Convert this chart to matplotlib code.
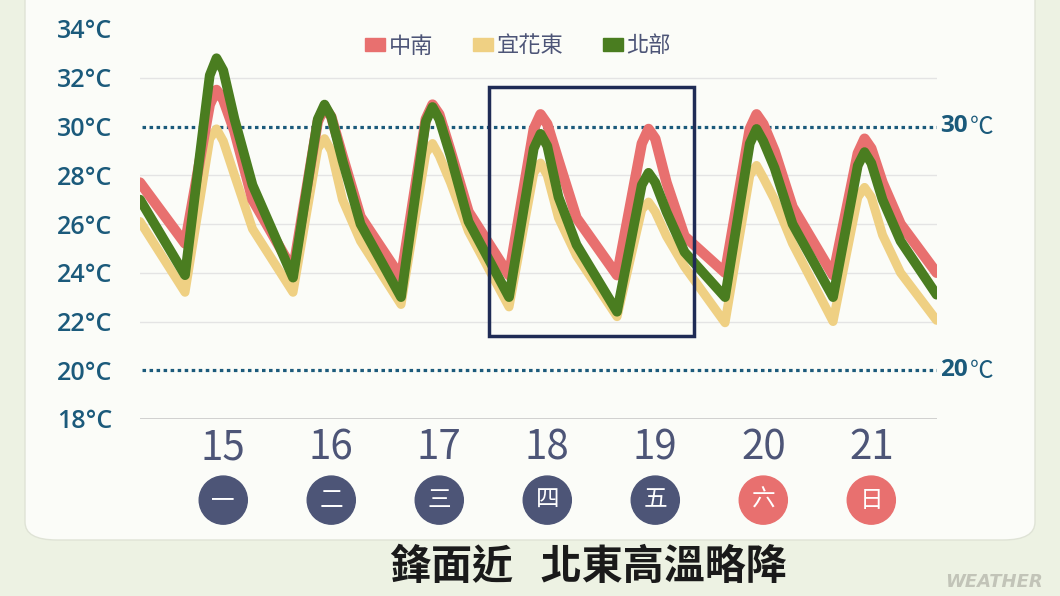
import matplotlib.pyplot as plt
from matplotlib.patches import Patch, Rectangle, FancyBboxPatch
from matplotlib.transforms import blended_transform_factory

# hours from the left edge of the plot (3 series share the same time points)
hours = [0, 10, 15.5, 17, 18.5, 21, 25,
         34, 39.5, 41, 42.5, 45, 49,
         58, 63.5, 65, 66.5, 69, 73,
         82, 87.5, 89, 90.5, 93, 97,
         106, 111.5, 113, 114.5, 117, 121,
         130, 135.5, 137, 138.5, 141, 145,
         154, 159.5, 161, 162.5, 165, 169, 177]

central_south = [27.7, 25.2, 30.9, 31.5, 31.1, 29.8, 27.0,
                 24.1, 30.2, 30.8, 30.4, 28.8, 26.3,
                 23.8, 30.3, 30.9, 30.5, 29.0, 26.5,
                 23.9, 29.9, 30.5, 30.1, 28.6, 26.25,
                 23.9, 29.3, 29.9, 29.5, 27.7, 25.5,
                 24.0, 29.9, 30.5, 30.1, 29.0, 26.7,
                 23.9, 28.9, 29.5, 29.1, 27.7, 26.0, 24.0]
yilan_hualien = [26.1, 23.2, 29.5, 29.9, 29.4, 28.0, 25.8,
                 23.2, 29.1, 29.5, 29.0, 27.0, 25.3,
                 22.7, 28.9, 29.3, 28.8, 27.7, 25.7,
                 22.6, 28.1, 28.5, 28.0, 26.25, 24.7,
                 22.2, 26.6, 26.9, 26.5, 25.5, 24.25,
                 21.95, 28.0, 28.4, 27.9, 27.0, 25.2,
                 22.0, 27.1, 27.5, 27.1, 25.55, 24.0, 22.05]
north = [27.0, 23.9, 32.1, 32.8, 32.3, 30.3, 27.6,
         23.8, 30.3, 30.9, 30.4, 28.6, 26.0,
         23.0, 30.2, 30.8, 30.3, 28.8, 26.1,
         23.0, 29.1, 29.7, 29.2, 27.1, 25.15,
         22.4, 27.6, 28.1, 27.7, 26.5, 24.85,
         23.0, 29.3, 29.9, 29.4, 28.3, 26.0,
         23.0, 28.4, 28.95, 28.5, 27.0, 25.3, 23.1]

series_names = ['中南', '宜花東', '北部']
days = [15, 16, 17, 18, 19, 20, 21]
weekdays = ['一', '二', '三', '四', '五', '六', '日']
day_hours = [18.5 + 24 * i for i in range(len(days))]
y_ticks = list(range(18, 35, 2))

RED = '#e8706f'
YELLOW = '#efd083'
GREEN = '#4a7d20'
TEAL = '#1b5a7b'
NAVY = '#4d5577'
CJK = ['Noto Sans CJK TC', 'DejaVu Sans']

plt.rcParams['font.family'] = CJK

fig = plt.figure(figsize=(10.6, 5.96), dpi=100)
fig.patch.set_facecolor('#edf2e3')
panel = FancyBboxPatch((25 / 1060, 56 / 596), 1010 / 1060, 560 / 596,
                       boxstyle='round,pad=0,rounding_size=0.03',
                       transform=fig.transFigure, fc='#fbfcf8', ec='#dfe3d6', lw=1,
                       zorder=-5)
fig.patches.append(panel)

ax = fig.add_axes([140 / 1060, 1 - 419 / 596, 797 / 1060, 390 / 596])
ax.set_facecolor('none')
ax.set_xlim(0, 177.1)
ax.set_ylim(18, 34)
for s in ax.spines.values():
    s.set_visible(False)

# grid
for v in [22, 24, 26, 28, 32]:
    ax.axhline(v, color='#e4e4e4', lw=1, zorder=0)
ax.axhline(18, color='#c9c9c9', lw=1.2, zorder=0)
for v in [30, 20]:
    ax.axhline(v, xmin=-0.006, xmax=1.0, color=TEAL, lw=2.3,
               ls=(0, (1.1, 1.1)), dash_capstyle='butt', zorder=1)

# lines
ax.plot(hours, yilan_hualien, color=YELLOW, lw=6.5, solid_joinstyle='round',
        solid_capstyle='round', zorder=3)
ax.plot(hours, central_south, color=RED, lw=7.5, solid_joinstyle='round',
        solid_capstyle='round', zorder=4)
ax.plot(hours, north, color=GREEN, lw=7, solid_joinstyle='round',
        solid_capstyle='round', zorder=5)

# highlight box around 18-19
ax.add_patch(Rectangle((day_hours[3] - 12.9, 21.42), 45.5, 10.2, fill=False,
                       ec='#1f2b55', lw=2.5, zorder=6, clip_on=False))

# y axis labels
ax.set_yticks(y_ticks)
ax.set_yticklabels([f'{v}°C' for v in y_ticks], family=['Open Sans', 'DejaVu Sans'],
                   fontsize=18, color=TEAL, fontweight='semibold')
ax.tick_params(axis='y', length=0, pad=20)

# day numbers
ax.set_xticks(day_hours)
ax.set_xticklabels([str(d) for d in days], fontsize=29, color=NAVY)
ax.tick_params(axis='x', length=0, pad=6)

# weekday circles
tr = blended_transform_factory(ax.transData, ax.transAxes)
colors = [NAVY] * 5 + [RED, RED]
ax.scatter(day_hours, [-0.208] * len(days), s=1200, c=colors, transform=tr,
           clip_on=False, zorder=6)
for x, w in zip(day_hours, weekdays):
    ax.text(x, -0.208, w, transform=tr, ha='center', va='center',
            fontsize=17, color='white', zorder=7)

# right side reference labels
tr2 = blended_transform_factory(ax.transAxes, ax.transData)
for v in [30, 20]:
    ax.text(1.004, v, str(v), transform=tr2, ha='left', va='center',
            fontsize=17.5, fontweight='bold', color=TEAL,
            family=['Open Sans', 'DejaVu Sans'])
    ax.text(1.041, v - 0.05, '℃', transform=tr2, ha='left', va='center',
            fontsize=17, color=TEAL)

# legend
handles = [Patch(color=c) for c in [RED, YELLOW, GREEN]]
fig.legend(handles, series_names, loc='center', bbox_to_anchor=(518 / 1060, 1 - 46 / 596),
           ncol=3, frameon=False, fontsize=16, handlelength=0.9, handleheight=0.55,
           handletextpad=0.15, columnspacing=1.8, labelcolor=NAVY)

# title
fig.text(588 / 1060, 1 - 567 / 596, '鋒面近   北東高溫略降', ha='center', va='center',
         fontsize=29.5, fontweight='bold', color='#1a1a1a')
fig.text(945 / 1060, 1 - 582 / 596, 'WEATHER', ha='left', va='center',
         fontsize=13, fontweight='bold', style='italic', color='#c2c4b8',
         family=['DejaVu Sans'])

fig.savefig('out.png', dpi=100, facecolor=fig.get_facecolor())
